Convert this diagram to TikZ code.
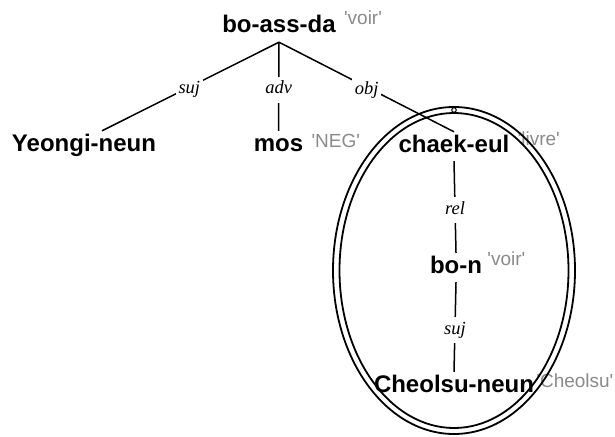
\documentclass[tikz,border=0pt]{standalone}
\usepackage{fontspec}
\setmainfont{Liberation Serif}
\newfontfamily\wordfont{Liberation Sans}
\usetikzlibrary{calc}
\definecolor{glossgray}{HTML}{8A8A8A}
\tikzset{
  word/.style={font=\wordfont\fontsize{24}{24}\selectfont\bfseries, inner xsep=0pt, inner ysep=3pt,
    text height=17pt, text depth=6pt, anchor=base},
  gloss/.style={font=\wordfont\fontsize{19}{19}\selectfont, text=glossgray, inner sep=0pt, anchor=base west},
  lab/.style={font=\itshape\fontsize{18.5}{18.5}\selectfont, fill=white, inner xsep=3pt, inner ysep=5pt,
    text height=12pt, text depth=4pt, pos=0.535},
  edge/.style={line width=1.5pt},
  ring/.style={line width=1.8pt}
}
\begin{document}
\begin{tikzpicture}[x=1pt,y=1pt]
\useasboundingbox (0,0) rectangle (615,-436);
% words
\node[word] (root) at (279,-33) {bo-ass-da};
\node[word] (yeo) at (84,-151) {Yeongi-neun};
\node[word] (mos) at (278.5,-151) {mos};
\node[word] (chaek) at (454,-152) {chaek-eul};
\node[word] (bon) at (456,-273) {bo-n};
\node[word] (cheol) at (454,-392) {Cheolsu-neun};
% glosses
\node[gloss] (g1) at ($(root.base east)+(8,8)$) {'voir'};
\node[gloss] (g2) at ($(mos.base east)+(8,4)$) {'NEG'};
\node[gloss] (g3) at ($(chaek.base east)+(8,7)$) {'livre'};
\node[gloss] (g4) at ($(bon.base east)+(5,8)$) {'voir'};
\node[gloss] (g5) at ($(cheol.base east)+(2,5)$) {'Cheolsu'};
% ellipse
\draw[ring] (454,-270.5) ellipse [x radius=121pt, y radius=163.5pt];
\draw[ring] (454,-270.5) ellipse [x radius=114.5pt, y radius=157.5pt];
\draw[line width=1pt, fill=white] (454,-110) coordinate (top) circle (2.3pt);
% edges
\draw[edge] (root.south) -- ([xshift=18pt]yeo.north) node[lab, xshift=5pt] (l1) {suj};
\draw[edge] (root.south) -- (mos.north) node[lab] (l2) {adv};
\draw[edge] (root.south) -- (chaek.north) node[lab, xshift=-6pt] (l3) {obj};
\draw[edge] (chaek.south) -- (bon.north) node[lab] (l4) {rel};
\draw[edge] (bon.south) -- (cheol.north) node[lab] (l5) {suj};
\end{tikzpicture}
\end{document}
